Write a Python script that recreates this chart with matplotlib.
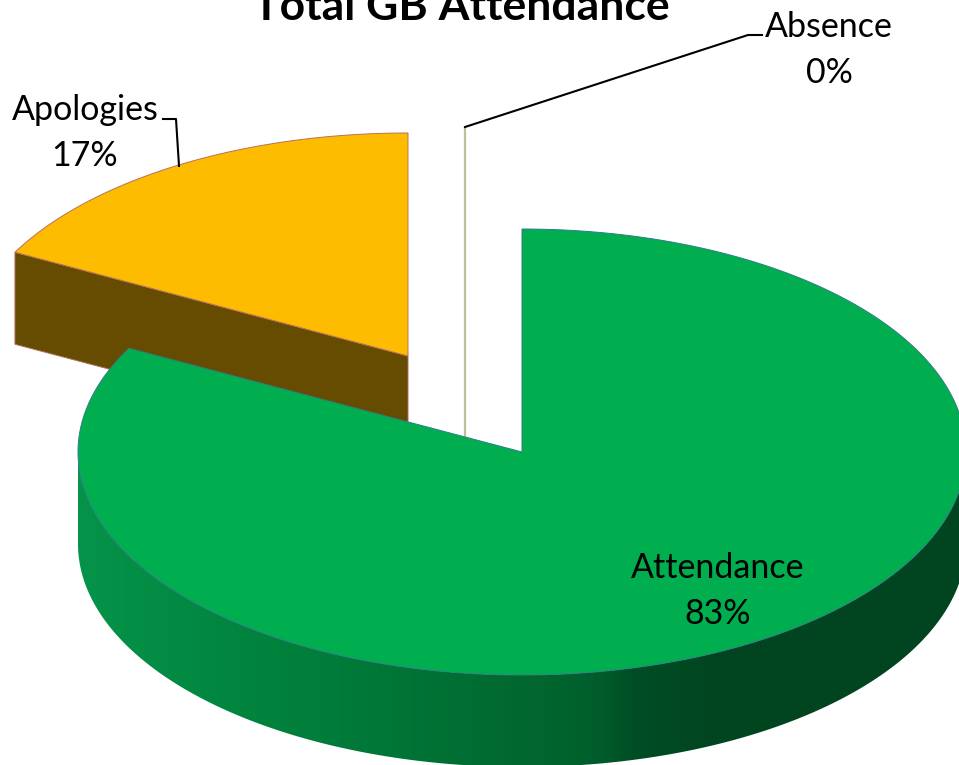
import matplotlib; matplotlib.use("Agg")
import matplotlib.pyplot as plt, numpy as np
from matplotlib.colors import LinearSegmentedColormap
from matplotlib.patches import Polygon

title = "Total GB Attendance"
labels = ["Attendance", "Apologies", "Absence"]
shares = [82.7, 17.3, 0]
pct_text = ["83%", "17%", "0%"]

# pie geometry, in image pixels
RX, RY, DEPTH = 444, 223, 92
centres = [(522, 452), (408, 356), (465, 350)]

def rim(cx, cy, a0, a1, drop=0, n=300):
    # angles clockwise from 12 o'clock, in degrees
    t = np.radians(np.linspace(a0, a1, n))
    return np.column_stack([cx + RX * np.sin(t), cy - RY * np.cos(t) + drop])

fig = plt.figure(figsize=(9.59, 7.65), dpi=100)
ax = fig.add_axes([0, 0, 1, 1])
ax.set_xlim(0, 959); ax.set_ylim(765, 0); ax.axis("off")

stops = np.cumsum([0] + shares) * 3.6
start = stops[:-1]; end = stops[1:]

# apologies slice: cut wall first, then the top
cx, cy = centres[1]
edge = rim(cx, cy, start[1], end[1])
a = edge[0]
ax.add_patch(Polygon([a, (cx, cy), (cx, cy + DEPTH), (a[0], a[1] + DEPTH)], fc="#664c00", ec="#b0705a", lw=0.7, zorder=2))
ax.add_patch(Polygon(np.vstack([[(cx, cy)], edge]), fc="#fdbc00", ec="#b8705a", lw=0.7, zorder=3))

# absence slice has no width, only its wall shows
cx, cy = centres[2]
ax.plot([cx, cx], [cy - RY, cy + DEPTH], color="#b7c39b", lw=1.6, zorder=2, solid_capstyle="butt")

# attendance side, shaded left to right and clipped to the rim band
cx, cy = centres[0]
band = np.vstack([rim(cx, cy, 270, 90), rim(cx, cy, 90, 270, DEPTH)])
side = Polygon(band, fc="none", ec="none", zorder=4)
ax.add_patch(side)
cmap = LinearSegmentedColormap.from_list("side", [(0, "#059349"), (0.25, "#007f3b"), (0.48, "#006a30"), (0.58, "#005f2c"), (0.63, "#004d24"), (0.72, "#00451f"), (1, "#00451f")])
img = ax.imshow(np.linspace(0, 1, 500)[None, :], cmap=cmap, extent=[cx - RX, cx + RX, 765, 0], aspect="auto", zorder=4)
img.set_clip_path(side)
ax.set_xlim(0, 959); ax.set_ylim(765, 0)

# attendance top
ax.add_patch(Polygon(np.vstack([[(cx, cy)], rim(cx, cy, start[0], end[0])]), fc="#00ae50", ec="#2f7d86", lw=0.7, zorder=5))

font = "Lato"
ax.text(461, 20, title, ha="center", va="baseline", fontsize=32, fontweight="bold", family=font, zorder=6)
pos = [(718, 568), (85, 110), (829, 27)]
for lab, pct, (x, y) in zip(labels, pct_text, pos):
    ax.text(x, y, lab, ha="center", va="center", fontsize=24.5, family=font, zorder=6)
    ax.text(x, y + 46, pct, ha="center", va="center", fontsize=24.5, family=font, zorder=6)

# leader lines
ax.plot([163, 176, 179], [119, 119, 166], color="black", lw=1.5, zorder=6)
ax.plot([465, 748, 762], [127, 35, 35], color="black", lw=1.5, zorder=6)

plt.savefig("out.png", dpi=100)
